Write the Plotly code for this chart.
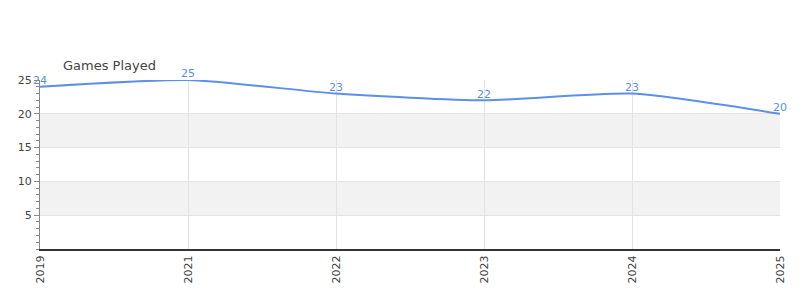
import plotly.graph_objects as go

years = ["2019", "2021", "2022", "2023", "2024", "2025"]
games = [24, 25, 23, 22, 23, 20]
y_ticks = [5, 10, 15, 20, 25]
bands = [(5, 10), (15, 20)]

line_color = "#5b8fe8"
font_family = "DejaVu Sans"

fig = go.Figure()
fig.add_trace(go.Scatter(
    x=years, y=games, mode="lines+text",
    line=dict(color=line_color, width=2, shape="spline", smoothing=0.6),
    text=[str(v) for v in games], textposition="top center",
    textfont=dict(color=line_color, size=11, family=font_family),
    cliponaxis=False, hoverinfo="x+y",
))

for lo, hi in bands:
    fig.add_shape(type="rect", xref="paper", yref="y", x0=0, x1=1, y0=lo, y1=hi,
                  fillcolor="#f2f2f2", line=dict(width=0), layer="below")

fig.add_annotation(text="Games Played", xref="paper", yref="paper", x=0.028, y=1.0,
                   xanchor="left", yanchor="bottom", yshift=5, showarrow=False,
                   font=dict(size=13, color="#444", family=font_family))

fig.update_layout(
    width=800, height=300,
    margin=dict(l=40, r=20, t=80, b=51),
    paper_bgcolor="white", plot_bgcolor="white",
    showlegend=False,
    font=dict(family=font_family, color="#444", size=11),
)
fig.update_xaxes(
    type="category", range=[0, len(years) - 1],
    showgrid=True, gridcolor="#e3e3e3", gridwidth=1,
    tickangle=-90, tickfont=dict(size=11, color="#444"),
    showline=True, linecolor="#333", linewidth=2,
    ticks="", zeroline=False,
)
fig.update_yaxes(
    range=[0, 25], tickvals=y_ticks,
    showgrid=True, gridcolor="#e3e3e3", gridwidth=1,
    showline=True, linecolor="#888", linewidth=1,
    ticks="outside", ticklen=5, tickcolor="#888",
    minor=dict(dtick=1, ticks="outside", ticklen=3, tickcolor="#888", showgrid=False),
    zeroline=False,
    tickfont=dict(size=11, color="#444"),
)

fig.write_html("out.html")
